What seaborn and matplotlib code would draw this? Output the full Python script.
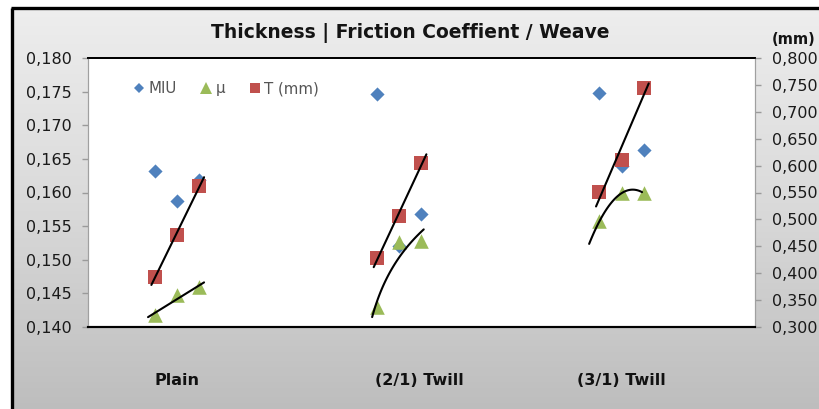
import numpy as np
import pandas as pd
import seaborn as sns
import matplotlib.pyplot as plt
from matplotlib.lines import Line2D
from matplotlib.ticker import FuncFormatter

# data: three samples per weave
weaves = ["Plain", "(2/1) Twill", "(3/1) Twill"]
weave_of_sample = ["Plain"] * 3 + ["(2/1) Twill"] * 3 + ["(3/1) Twill"] * 3
sample_x = [3, 4, 5, 13, 14, 15, 23, 24, 25]
miu = [0.1632, 0.1587, 0.1619, 0.1746, 0.1521, 0.1568, 0.1748, 0.1639, 0.1663]
mu = [0.1418, 0.1447, 0.1459, 0.1430, 0.1526, 0.1528, 0.1557, 0.1599, 0.1599]
t_mm = [0.393, 0.471, 0.562, 0.428, 0.506, 0.605, 0.551, 0.610, 0.744]
mu_trend_kind = ["linear", "log", "poly2"]
label_x = [4, 14.9, 24]

BLUE = "#4F81BD"
GREEN = "#9BBB59"
RED = "#C0504D"

df = pd.DataFrame({"weave": weave_of_sample, "x": sample_x,
                   "MIU": miu, "mu": mu, "T": t_mm})

sns.set_style("white")
plt.rcParams['font.family'] = ['DejaVu Sans']

W, H = 820, 409
fig = plt.figure(figsize=(W / 100, H / 100), dpi=100)
fig.patch.set_facecolor("#c8c8c8")
fig.patch.set_linewidth(0)

# grey gradient background with the black frame of the chart area
bg = fig.add_axes([0, 0, 1, 1])
bg.set_xlim(0, W)
bg.set_ylim(H, 0)
shades = sns.blend_palette(["#ededed", "#d9d9d9", "#bdbdbd"], n_colors=134)
edges = np.linspace(8, H, len(shades) + 1)
for c, y0, y1 in zip(shades, edges[:-1], edges[1:]):
    bg.fill_between([12, W + 30], y0, y1 + 0.6, color=c, lw=0)
bg.fill_between([0, W + 30], -5, 8, color="white", lw=0)
bg.fill_between([-5, 12], -5, H + 5, color="white", lw=0)
bg.plot([12, 12], [8, H + 5], color="black", lw=2.4, solid_capstyle="butt")
bg.plot([11, W + 5], [8, 8], color="black", lw=2.4, solid_capstyle="butt")
bg.set_xlim(0, W)
bg.set_ylim(H, 0)
bg.axis("off")

ax = fig.add_axes([88 / W, 1 - 327 / H, (755 - 88) / W, (327 - 58) / H])
ax.set_facecolor("white")
ax2 = ax.twinx()

sns.scatterplot(data=df, x="x", y="MIU", marker="D", color=BLUE, s=52,
                linewidth=0, ax=ax, zorder=3)
sns.scatterplot(data=df, x="x", y="mu", marker="^", color=GREEN, s=110,
                linewidth=0, ax=ax, zorder=4)
sns.scatterplot(data=df, x="x", y="T", marker="s", color=RED, s=110,
                linewidth=0, ax=ax2, zorder=3)

# trend lines, one per weave
for i, w in enumerate(weaves):
    g = df[df["weave"] == w]
    gx = g["x"].to_numpy(dtype=float)
    # thickness: linear trend
    k, b = np.polyfit(gx, g["T"], 1)
    xx = np.linspace(gx[0] - 0.15, gx[-1] + 0.22, 50)
    ax2.plot(xx, k * xx + b, color="black", lw=1.5, zorder=5)
    # friction coefficient
    kind = mu_trend_kind[i]
    if kind == "linear":
        k, b = np.polyfit(gx, g["mu"], 1)
        xx = np.linspace(gx[0] - 0.3, gx[-1] + 0.22, 50)
        yy = k * xx + b
    elif kind == "log":
        loc = gx - gx[0] + 1
        k, b = np.polyfit(np.log(loc), g["mu"], 1)
        xx = np.linspace(gx[0] - 0.22, gx[-1] + 0.1, 80)
        yy = k * np.log(xx - gx[0] + 1) + b
    else:
        c = np.polyfit(gx, g["mu"], 2)
        xx = np.linspace(gx[0] - 0.46, gx[-1] - 0.08, 80)
        yy = np.polyval(c, xx)
    ax.plot(xx, yy, color="black", lw=1.5, zorder=5)

comma = FuncFormatter(lambda v, p: f"{v:.3f}".replace(".", ","))

ax.set_xlim(0, 30)
ax.set_ylim(0.140, 0.180)
ax.set_yticks(np.arange(0.140, 0.1801, 0.005))
ax.yaxis.set_major_formatter(comma)
ax2.set_ylim(0.300, 0.800)
ax2.set_yticks(np.arange(0.300, 0.8001, 0.05))
ax2.yaxis.set_major_formatter(comma)

ax.set_xticks(label_x)
ax.set_xticklabels(weaves, fontsize=11.5, fontweight="bold", color="#111111")
ax.tick_params(axis="x", length=0, pad=33)
ax.tick_params(axis="y", length=4.5, width=1, color="#9a9a9a", pad=7,
               labelsize=11.5, labelcolor="#1a1a1a", left=True, direction="out")
ax2.tick_params(axis="y", length=4.5, width=1, color="#9a9a9a", pad=8,
                labelsize=11.5, labelcolor="#1a1a1a", right=True, direction="out")
ax.set_xlabel("")
ax.set_ylabel("")
ax2.set_ylabel("")

for a in (ax, ax2):
    a.spines["left"].set_color("#a0a0a0")
    a.spines["right"].set_color("#a0a0a0")
    a.spines["top"].set_color("black")
    a.spines["bottom"].set_color("black")
    a.spines["top"].set_linewidth(1.3)
    a.spines["bottom"].set_linewidth(1.5)

fig.text(410 / W, 1 - 33 / H, "Thickness | Friction Coeffient / Weave",
         ha="center", va="center", fontsize=13.5, fontweight="bold",
         color="#141414")
fig.text(794 / W, 1 - 40 / H, "(mm)", ha="center", va="center",
         fontsize=10.5, fontweight="bold", color="#141414")

handles = [
    Line2D([], [], marker="D", color=BLUE, ls="none", markersize=5.5, mew=0),
    Line2D([], [], marker="^", color=GREEN, ls="none", markersize=8, mew=0),
    Line2D([], [], marker="s", color=RED, ls="none", markersize=7.5, mew=0),
]
leg = ax.legend(handles, ["MIU", "μ", "T (mm)"], ncol=3, frameon=False,
                loc="center left", bbox_to_anchor=(0.045, 0.885),
                handletextpad=0.1, columnspacing=1.5, handlelength=1.0,
                prop={"size": 10.8})
for t in leg.get_texts():
    t.set_color("#555555")

fig.savefig("out.png", dpi=100, facecolor=fig.get_facecolor())
